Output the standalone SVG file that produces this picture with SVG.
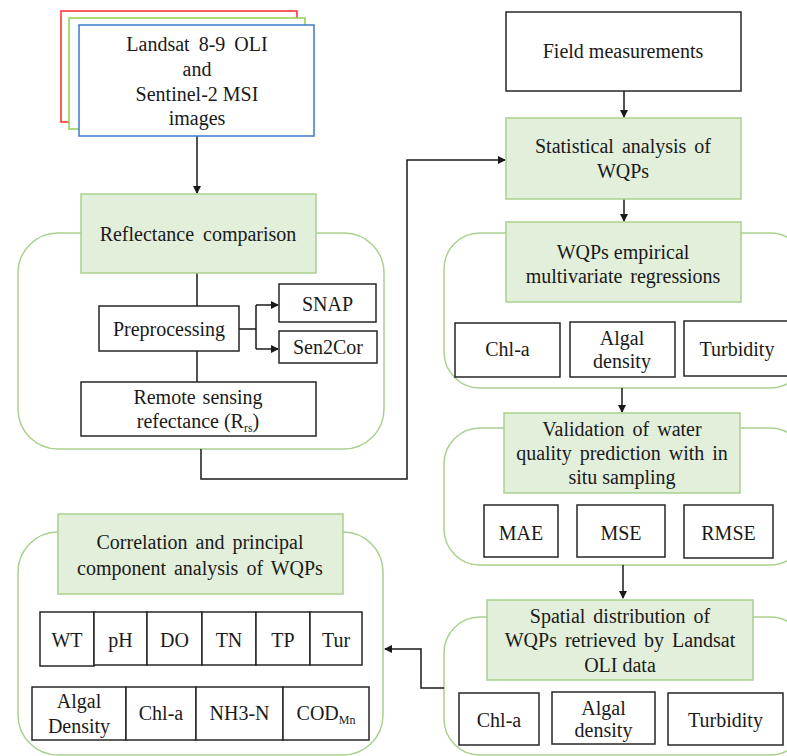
<svg xmlns="http://www.w3.org/2000/svg" width="787" height="756" viewBox="0 0 787 756" font-family="'Liberation Serif', 'DejaVu Serif', serif">
<defs>
<marker id="arr" markerWidth="8" markerHeight="8" refX="7" refY="4" orient="auto" markerUnits="userSpaceOnUse">
<path d="M0,0 L8,4 L0,8 Z" fill="#1a1a1a"/>
</marker>
<style>
text{font-family:'Liberation Serif','DejaVu Serif',serif;font-size:20px;fill:#1a1a1a;text-anchor:middle}
.g{fill:#e2efda;stroke:#a9d18e;stroke-width:1.5}
.c{fill:none;stroke:#a9d18e;stroke-width:1.5}
.b{fill:#fff;stroke:#262626;stroke-width:1.5}
.ln{fill:none;stroke:#1a1a1a;stroke-width:1.5}
.sub{font-size:12px}
</style>
</defs>
<rect width="787" height="756" fill="#fff"/>

<g id="containers">
<rect class="c" x="18" y="233" width="366" height="216" rx="40"/>
<rect class="c" x="444" y="233" width="362" height="155" rx="36"/>
<rect class="c" x="444" y="428" width="362" height="137" rx="36"/>
<rect class="c" x="444" y="617" width="362" height="138" rx="36"/>
<rect class="c" x="18" y="532" width="365" height="223" rx="40"/>
</g>

<g id="connectors">
<line class="ln" x1="197" y1="136" x2="197" y2="193" marker-end="url(#arr)"/>
<line class="ln" x1="197" y1="273" x2="197" y2="306"/>
<line class="ln" x1="197" y1="351" x2="197" y2="382"/>
<polyline class="ln" points="239,329 256,329"/>
<polyline class="ln" points="256,305 256,349"/>
<line class="ln" x1="256" y1="305" x2="278" y2="305" marker-end="url(#arr)"/>
<line class="ln" x1="256" y1="349" x2="278" y2="349" marker-end="url(#arr)"/>
<polyline class="ln" points="201,449 201,479 407,479 407,160 505,160" marker-end="url(#arr)"/>
<line class="ln" x1="624" y1="91" x2="624" y2="117" marker-end="url(#arr)"/>
<line class="ln" x1="624" y1="199" x2="624" y2="221" marker-end="url(#arr)"/>
<line class="ln" x1="622" y1="388" x2="622" y2="412" marker-end="url(#arr)"/>
<line class="ln" x1="623" y1="565" x2="623" y2="598" marker-end="url(#arr)"/>
<polyline class="ln" points="444,688 421,688 421,649 385,649" marker-end="url(#arr)"/>
</g>

<g id="images">
<rect x="61" y="11" width="236" height="111" fill="#fff" stroke="#ff2a2a" stroke-width="1.5"/>
<rect x="69" y="18" width="236" height="111" fill="#fff" stroke="#92d050" stroke-width="1.5"/>
<rect x="79" y="25" width="235" height="111" fill="#fff" stroke="#3a7cc8" stroke-width="1.5"/>
<text x="197" y="51" word-spacing="4">Landsat 8-9 OLI</text>
<text x="197" y="76">and</text>
<text x="197" y="101">Sentinel-2 MSI</text>
<text x="197" y="125">images</text>
</g>

<g id="reflectance">
<rect class="g" x="81" y="194" width="235" height="79"/>
<text x="198" y="241" word-spacing="4">Reflectance comparison</text>
</g>
<g id="preprocessing">
<rect class="b" x="99" y="306" width="140" height="45"/>
<text x="169" y="336">Preprocessing</text>
</g>
<g id="snap">
<rect class="b" x="279" y="284" width="97" height="38"/>
<text x="327.5" y="311">SNAP</text>
</g>
<g id="sen2cor">
<rect class="b" x="279" y="331" width="98" height="32"/>
<text x="328" y="354">Sen2Cor</text>
</g>
<g id="rrs">
<rect class="b" x="81" y="382" width="235" height="54"/>
<text x="198" y="404" word-spacing="2">Remote sensing</text>
<text x="198" y="428">refectance (R<tspan class="sub" dy="4">rs</tspan><tspan dy="-4">)</tspan></text>
</g>

<g id="field">
<rect class="b" x="506" y="12" width="235" height="79"/>
<text x="623" y="58">Field measurements</text>
</g>
<g id="statistical">
<rect class="g" x="506" y="118" width="235" height="81"/>
<text x="623" y="153" word-spacing="3">Statistical analysis of</text>
<text x="623" y="178">WQPs</text>
</g>
<g id="empirical">
<rect class="g" x="506" y="222" width="235" height="80"/>
<text x="623" y="259">WQPs empirical</text>
<text x="623" y="283" word-spacing="3">multivariate regressions</text>
</g>
<g id="emp-chla">
<rect class="b" x="455" y="323" width="105" height="54"/>
<text x="507.5" y="356">Chl-a</text>
</g>
<g id="emp-algal">
<rect class="b" x="570" y="322" width="105" height="55"/>
<text x="622" y="345">Algal</text>
<text x="622" y="368">density</text>
</g>
<g id="emp-turb">
<rect class="b" x="684" y="321" width="106" height="55"/>
<text x="737" y="356">Turbidity</text>
</g>

<g id="validation">
<rect class="g" x="504" y="413" width="236" height="80"/>
<text x="622" y="436" word-spacing="3">Validation of water</text>
<text x="622" y="460" word-spacing="3">quality prediction with in</text>
<text x="622" y="484">situ sampling</text>
</g>
<g id="mae">
<rect class="b" x="484" y="505" width="74" height="52"/>
<text x="521" y="540">MAE</text>
</g>
<g id="mse">
<rect class="b" x="577" y="505" width="88" height="52"/>
<text x="621" y="540">MSE</text>
</g>
<g id="rmse">
<rect class="b" x="684" y="505" width="89" height="53"/>
<text x="728.5" y="540">RMSE</text>
</g>

<g id="spatial">
<rect class="g" x="487" y="600" width="266" height="80"/>
<text x="620" y="623" word-spacing="3">Spatial distribution of</text>
<text x="620" y="647" word-spacing="3">WQPs retrieved by Landsat</text>
<text x="620" y="672">OLI data</text>
</g>
<g id="sp-chla">
<rect class="b" x="459" y="693" width="80" height="52"/>
<text x="499" y="727">Chl-a</text>
</g>
<g id="sp-algal">
<rect class="b" x="552" y="692" width="103" height="52"/>
<text x="603.5" y="715">Algal</text>
<text x="603.5" y="737">density</text>
</g>
<g id="sp-turb">
<rect class="b" x="668" y="693" width="115" height="52"/>
<text x="725.5" y="727">Turbidity</text>
</g>

<g id="correlation">
<rect class="g" x="58" y="514" width="285" height="80"/>
<text x="200" y="549" word-spacing="3">Correlation and principal</text>
<text x="200" y="575" word-spacing="3">component analysis of WQPs</text>
</g>
<g id="params-row1">
<rect class="b" x="40" y="612" width="54" height="54"/>
<rect class="b" x="94" y="612" width="53" height="53"/>
<rect class="b" x="147" y="612" width="55" height="53"/>
<rect class="b" x="202" y="612" width="54" height="53"/>
<rect class="b" x="256" y="612" width="54" height="53"/>
<rect class="b" x="310" y="612" width="52" height="53"/>
<text x="67" y="647">WT</text>
<text x="120.5" y="647">pH</text>
<text x="174.5" y="647">DO</text>
<text x="229" y="647">TN</text>
<text x="283" y="647">TP</text>
<text x="336" y="647">Tur</text>
</g>
<g id="params-row2">
<rect class="b" x="32" y="687" width="94" height="53"/>
<rect class="b" x="126" y="687" width="70" height="53"/>
<rect class="b" x="196" y="687" width="87" height="53"/>
<rect class="b" x="283" y="687" width="86" height="53"/>
<text x="79" y="708">Algal</text>
<text x="79" y="733">Density</text>
<text x="161" y="720">Chl-a</text>
<text x="239.5" y="720">NH3-N</text>
<text x="326" y="720">COD<tspan class="sub" dy="4">Mn</tspan></text>
</g>
</svg>
